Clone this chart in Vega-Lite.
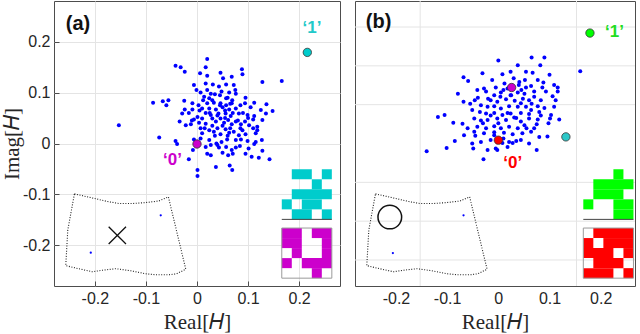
{
 "$schema": "https://vega.github.io/schema/vega-lite/v6.json",
 "padding": {"left": 0, "top": 0, "right": 0, "bottom": 0},
 "spacing": 13,
 "resolve": {"scale": {"x": "independent", "y": "independent", "color": "independent", "fill": "independent"}},
 "config": {
  "view": {"stroke": "#4d4d4d", "strokeWidth": 1},
  "axis": {"labelFont": "Liberation Sans", "labelFontSize": 16, "labelColor": "#262626", "titleFont": "Liberation Serif", "titleFontSize": 21, "titleFontWeight": "normal", "titleColor": "#262626", "domain": false, "gridColor": "#e4e4e4", "tickColor": "#4d4d4d"}
 },
 "datasets": {
  "ptsA": [
   {"x":0.020,"y":0.166},{"x":-0.042,"y":0.153},{"x":-0.032,"y":0.150},{"x":0.017,"y":0.150},{"x":-0.024,"y":0.141},{"x":0.006,"y":0.138},{"x":0.046,"y":0.139},{"x":0.088,"y":0.146},{"x":0.089,"y":0.136},{"x":0.020,"y":0.133},{"x":0.051,"y":0.128},{"x":0.068,"y":0.131},{"x":0.128,"y":0.121},{"x":0.166,"y":0.123},{"x":-0.006,"y":0.115},{"x":0.017,"y":0.118},{"x":0.031,"y":0.116},{"x":0.043,"y":0.112},{"x":0.057,"y":0.116},{"x":0.072,"y":0.115},{"x":-0.001,"y":0.105},{"x":0.007,"y":0.100},{"x":0.027,"y":0.098},{"x":0.035,"y":0.097},{"x":0.048,"y":0.102},{"x":0.063,"y":0.100},{"x":0.076,"y":0.098},{"x":0.014,"y":0.092},{"x":0.024,"y":0.089},{"x":0.057,"y":0.089},{"x":0.069,"y":0.085},{"x":-0.025,"y":0.084},{"x":-0.086,"y":0.080},{"x":-0.067,"y":0.083},{"x":-0.056,"y":0.085},{"x":-0.060,"y":0.075},{"x":-0.009,"y":0.079},{"x":0.003,"y":0.075},{"x":0.020,"y":0.079},{"x":0.033,"y":0.080},{"x":0.046,"y":0.079},{"x":0.057,"y":0.075},{"x":0.068,"y":0.079},{"x":0.094,"y":0.079},{"x":0.112,"y":0.080},{"x":0.136,"y":0.077},{"x":-0.024,"y":0.067},{"x":-0.009,"y":0.067},{"x":0.010,"y":0.069},{"x":0.024,"y":0.069},{"x":0.037,"y":0.067},{"x":0.050,"y":0.071},{"x":0.063,"y":0.067},{"x":0.076,"y":0.069},{"x":0.105,"y":0.071},{"x":0.125,"y":0.066},{"x":0.148,"y":0.064},{"x":-0.029,"y":0.059},{"x":-0.016,"y":0.060},{"x":0.001,"y":0.052},{"x":0.017,"y":0.060},{"x":0.027,"y":0.056},{"x":0.042,"y":0.059},{"x":0.056,"y":0.059},{"x":0.066,"y":0.054},{"x":0.082,"y":0.059},{"x":0.099,"y":0.056},{"x":0.112,"y":0.054},{"x":0.135,"y":0.059},{"x":-0.006,"y":0.047},{"x":0.010,"y":0.049},{"x":0.030,"y":0.049},{"x":0.046,"y":0.049},{"x":0.061,"y":0.046},{"x":0.076,"y":0.043},{"x":0.094,"y":0.043},{"x":0.110,"y":0.047},{"x":0.128,"y":0.046},{"x":-0.034,"y":0.043},{"x":-0.022,"y":0.036},{"x":-0.012,"y":0.038},{"x":0.004,"y":0.041},{"x":0.017,"y":0.039},{"x":0.037,"y":0.043},{"x":0.053,"y":0.041},{"x":0.068,"y":0.038},{"x":0.086,"y":0.038},{"x":0.102,"y":0.036},{"x":0.118,"y":0.033},{"x":0.007,"y":0.030},{"x":0.024,"y":0.026},{"x":0.040,"y":0.030},{"x":0.056,"y":0.028},{"x":0.072,"y":0.023},{"x":0.089,"y":0.026},{"x":0.118,"y":0.026},{"x":0.010,"y":0.020},{"x":0.033,"y":0.023},{"x":0.046,"y":0.018},{"x":0.063,"y":0.021},{"x":0.082,"y":0.016},{"x":0.095,"y":0.018},{"x":0.115,"y":0.020},{"x":-0.042,"y":0.005},{"x":-0.039,"y":-0.001},{"x":-0.074,"y":0.012},{"x":-0.006,"y":0.008},{"x":0.007,"y":0.010},{"x":0.024,"y":0.007},{"x":0.038,"y":0.000},{"x":0.048,"y":0.003},{"x":0.059,"y":0.008},{"x":0.076,"y":0.007},{"x":0.086,"y":0.008},{"x":0.099,"y":0.005},{"x":0.115,"y":0.003},{"x":0.127,"y":0.007},{"x":0.017,"y":-0.007},{"x":0.027,"y":-0.003},{"x":0.043,"y":-0.008},{"x":0.057,"y":-0.007},{"x":0.076,"y":-0.008},{"x":0.084,"y":-0.005},{"x":0.101,"y":-0.010},{"x":0.112,"y":-0.001},{"x":-0.008,"y":-0.013},{"x":0.020,"y":-0.020},{"x":0.027,"y":-0.023},{"x":0.050,"y":-0.018},{"x":0.061,"y":-0.023},{"x":0.068,"y":-0.013},{"x":0.095,"y":-0.020},{"x":0.107,"y":-0.026},{"x":0.121,"y":-0.028},{"x":0.128,"y":-0.014},{"x":0.142,"y":-0.031},{"x":-0.016,"y":-0.031},{"x":0.037,"y":-0.046},{"x":0.064,"y":-0.043},{"x":0.069,"y":-0.052},{"x":0.001,"y":-0.052},{"x":0.001,"y":-0.064},{"x":-0.153,"y":0.036},
   {"x":0.030,"y":0.085},{"x":0.045,"y":0.075},{"x":0.060,"y":0.090},{"x":0.040,"y":0.055},{"x":0.055,"y":0.065},{"x":0.070,"y":0.060},{"x":0.025,"y":0.060},{"x":0.050,"y":0.035},{"x":0.065,"y":0.030},{"x":0.035,"y":0.015},{"x":0.080,"y":0.045},{"x":0.090,"y":0.060},{"x":0.015,"y":0.030},{"x":0.005,"y":0.065},{"x":0.045,"y":0.095},{"x":0.085,"y":0.030},{"x":0.100,"y":0.050},{"x":0.060,"y":0.015},{"x":0.020,"y":0.105},{"x":0.075,"y":0.105},{"x":-0.010,"y":0.045},{"x":0.095,"y":0.090},{"x":0.110,"y":0.030},{"x":0.040,"y":-0.003},{"x":0.070,"y":-0.020},{"x":0.012,"y":0.085},{"x":0.055,"y":0.050},{"x":0.030,"y":0.035},{"x":0.085,"y":0.075},{"x":0.065,"y":0.078}
  ],
  "ptsB": [
   {"x":0.000,"y":0.163},{"x":0.065,"y":0.169},{"x":0.090,"y":0.169},{"x":0.082,"y":0.154},{"x":0.038,"y":0.154},{"x":0.160,"y":0.142},{"x":-0.031,"y":0.138},{"x":-0.068,"y":0.130},{"x":-0.059,"y":0.123},{"x":0.008,"y":0.136},{"x":0.024,"y":0.141},{"x":0.054,"y":0.141},{"x":0.067,"y":0.139},{"x":0.100,"y":0.135},{"x":0.041,"y":0.121},{"x":0.052,"y":0.125},{"x":0.077,"y":0.125},{"x":0.109,"y":0.115},{"x":0.116,"y":0.110},{"x":-0.028,"y":0.108},{"x":-0.005,"y":0.110},{"x":0.010,"y":0.105},{"x":0.018,"y":0.108},{"x":0.054,"y":0.110},{"x":0.064,"y":0.113},{"x":0.086,"y":0.110},{"x":-0.079,"y":0.098},{"x":-0.041,"y":0.105},{"x":-0.024,"y":0.102},{"x":-0.008,"y":0.095},{"x":0.004,"y":0.092},{"x":0.024,"y":0.095},{"x":0.038,"y":0.100},{"x":0.051,"y":0.098},{"x":0.070,"y":0.102},{"x":0.093,"y":0.102},{"x":0.116,"y":0.102},{"x":-0.068,"y":0.082},{"x":-0.046,"y":0.085},{"x":-0.015,"y":0.085},{"x":-0.002,"y":0.082},{"x":0.015,"y":0.087},{"x":0.032,"y":0.084},{"x":0.044,"y":0.079},{"x":0.060,"y":0.085},{"x":0.083,"y":0.085},{"x":0.106,"y":0.093},{"x":-0.034,"y":0.075},{"x":-0.021,"y":0.072},{"x":-0.008,"y":0.073},{"x":0.005,"y":0.069},{"x":0.021,"y":0.073},{"x":0.038,"y":0.072},{"x":0.054,"y":0.072},{"x":0.077,"y":0.073},{"x":0.109,"y":0.072},{"x":-0.118,"y":0.052},{"x":-0.105,"y":0.056},{"x":-0.051,"y":0.066},{"x":-0.036,"y":0.062},{"x":-0.024,"y":0.059},{"x":-0.008,"y":0.060},{"x":0.008,"y":0.056},{"x":0.024,"y":0.059},{"x":0.044,"y":0.060},{"x":0.064,"y":0.066},{"x":0.080,"y":0.062},{"x":0.103,"y":0.056},{"x":-0.088,"y":0.041},{"x":-0.070,"y":0.039},{"x":-0.047,"y":0.049},{"x":-0.034,"y":0.045},{"x":-0.021,"y":0.046},{"x":-0.002,"y":0.049},{"x":0.015,"y":0.046},{"x":0.031,"y":0.051},{"x":0.044,"y":0.043},{"x":0.060,"y":0.049},{"x":0.077,"y":0.047},{"x":0.101,"y":0.049},{"x":0.119,"y":0.047},{"x":-0.060,"y":0.030},{"x":-0.041,"y":0.033},{"x":-0.024,"y":0.030},{"x":-0.008,"y":0.034},{"x":0.005,"y":0.030},{"x":0.021,"y":0.033},{"x":0.038,"y":0.030},{"x":0.051,"y":0.036},{"x":0.070,"y":0.030},{"x":0.096,"y":0.014},{"x":-0.085,"y":0.005},{"x":-0.067,"y":0.016},{"x":-0.047,"y":0.023},{"x":-0.028,"y":0.020},{"x":-0.008,"y":0.016},{"x":0.011,"y":0.021},{"x":0.028,"y":0.018},{"x":0.047,"y":0.020},{"x":0.064,"y":0.023},{"x":0.080,"y":0.013},{"x":-0.051,"y":0.000},{"x":-0.034,"y":0.003},{"x":-0.015,"y":0.007},{"x":0.008,"y":0.001},{"x":0.021,"y":0.003},{"x":0.044,"y":0.007},{"x":0.060,"y":0.000},{"x":-0.140,"y":-0.015},{"x":-0.101,"y":-0.009},{"x":-0.049,"y":-0.010},{"x":-0.021,"y":-0.013},{"x":-0.002,"y":-0.013},{"x":0.018,"y":-0.007},{"x":0.028,"y":0.001},{"x":0.075,"y":-0.013},{"x":-0.029,"y":-0.031},{"x":-0.005,"y":-0.010},
   {"x":0.012,"y":0.118},{"x":0.030,"y":0.128},{"x":0.045,"y":0.105},{"x":0.070,"y":0.092},{"x":0.088,"y":0.120},{"x":-0.012,"y":0.125},{"x":-0.040,"y":0.090},{"x":-0.055,"y":0.078},{"x":0.000,"y":0.040},{"x":0.018,"y":0.060},{"x":0.035,"y":0.050},{"x":0.060,"y":0.058},{"x":0.090,"y":0.070},{"x":0.098,"y":0.040},{"x":0.075,"y":0.038},{"x":0.055,"y":0.030},{"x":-0.015,"y":0.055},{"x":-0.030,"y":0.040},{"x":0.010,"y":0.010},{"x":0.035,"y":0.005},{"x":-0.045,"y":0.015},{"x":0.065,"y":0.078},{"x":0.025,"y":0.095},{"x":-0.020,"y":0.088},{"x":0.048,"y":0.088},{"x":0.112,"y":0.085},{"x":0.083,"y":0.055},{"x":-0.008,"y":0.022},{"x":0.040,"y":0.115},{"x":0.005,"y":0.100}
  ],
  "outline": [
   {"o":0,"x":-0.240,"y":-0.099},{"o":1,"x":-0.205,"y":-0.107},{"o":2,"x":-0.175,"y":-0.114},{"o":3,"x":-0.153,"y":-0.118},{"o":4,"x":-0.127,"y":-0.118},{"o":5,"x":-0.100,"y":-0.116},{"o":6,"x":-0.075,"y":-0.113},{"o":7,"x":-0.056,"y":-0.105},{"o":8,"x":-0.039,"y":-0.176},{"o":9,"x":-0.022,"y":-0.247},{"o":10,"x":-0.040,"y":-0.256},{"o":11,"x":-0.055,"y":-0.258},{"o":12,"x":-0.080,"y":-0.258},{"o":13,"x":-0.100,"y":-0.256},{"o":14,"x":-0.130,"y":-0.250},{"o":15,"x":-0.159,"y":-0.246},{"o":16,"x":-0.185,"y":-0.249},{"o":17,"x":-0.205,"y":-0.252},{"o":18,"x":-0.232,"y":-0.246},{"o":19,"x":-0.257,"y":-0.240},{"o":20,"x":-0.253,"y":-0.170},{"o":21,"x":-0.240,"y":-0.099}
  ],
  "tiny": [
   {"p":"a","x":-0.071,"y":-0.141},{"p":"a","x":-0.208,"y":-0.2146},
   {"p":"b","x":-0.068,"y":-0.141},{"p":"b","x":-0.206,"y":-0.2154}
  ],
  "special": [
   {"p":"a","s":"A1","x":0.216,"y":0.179},{"p":"a","s":"A0","x":0.0,"y":-0.001},
   {"p":"b","s":"A1","x":0.132,"y":0.013},{"p":"b","s":"A0","x":0.026,"y":0.110},
   {"p":"b","s":"B1","x":0.179,"y":0.217},{"p":"b","s":"B0","x":0.0,"y":0.0065}
  ],
  "labels": [
   {"p":"a","s":"A1","t":"‘1’","x":0.225,"y":0.227},{"p":"a","s":"A0","t":"‘0’","x":-0.048,"y":-0.033},
   {"p":"b","s":"B1","t":"‘1’","x":0.227,"y":0.220},{"p":"b","s":"B0","t":"‘0’","x":0.028,"y":-0.039}
  ],
  "ptitle": [
   {"p":"a","t":"(a)","x":-0.233,"y":0.235},{"p":"b","t":"(b)","x":-0.234,"y":0.238}
  ],
  "cells": [
   {"p":"a","s":"A1","x":0.1856,"x2":0.2248,"y":-0.0506,"y2":-0.0703},
   {"p":"a","s":"A1","x":0.2444,"x2":0.264,"y":-0.0506,"y2":-0.0703},
   {"p":"a","s":"A1","x":0.2248,"x2":0.2444,"y":-0.0703,"y2":-0.0900},
   {"p":"a","s":"A1","x":0.1856,"x2":0.264,"y":-0.0900,"y2":-0.1097},
   {"p":"a","s":"A1","x":0.166,"x2":0.1856,"y":-0.1097,"y2":-0.1294},
   {"p":"a","s":"A1","x":0.2052,"x2":0.2444,"y":-0.1097,"y2":-0.1294},
   {"p":"a","s":"A1","x":0.1856,"x2":0.2248,"y":-0.1294,"y2":-0.1491},
   {"p":"a","s":"A1","x":0.2444,"x2":0.264,"y":-0.1294,"y2":-0.1491},
   {"p":"a","s":"A0","x":0.166,"x2":0.2052,"y":-0.1661,"y2":-0.1858},
   {"p":"a","s":"A0","x":0.2248,"x2":0.264,"y":-0.1661,"y2":-0.1858},
   {"p":"a","s":"A0","x":0.166,"x2":0.2052,"y":-0.1858,"y2":-0.2055},
   {"p":"a","s":"A0","x":0.2444,"x2":0.264,"y":-0.1858,"y2":-0.2055},
   {"p":"a","s":"A0","x":0.1856,"x2":0.2052,"y":-0.2055,"y2":-0.2252},
   {"p":"a","s":"A0","x":0.2444,"x2":0.264,"y":-0.2055,"y2":-0.2252},
   {"p":"a","s":"A0","x":0.166,"x2":0.1856,"y":-0.2252,"y2":-0.2449},
   {"p":"a","s":"A0","x":0.2052,"x2":0.264,"y":-0.2252,"y2":-0.2449},
   {"p":"a","s":"A0","x":0.2248,"x2":0.2444,"y":-0.2449,"y2":-0.2646},
   {"p":"b","s":"B1","x":0.2248,"x2":0.2444,"y":-0.0506,"y2":-0.0703},
   {"p":"b","s":"B1","x":0.1856,"x2":0.264,"y":-0.0703,"y2":-0.0900},
   {"p":"b","s":"B1","x":0.1856,"x2":0.2444,"y":-0.0900,"y2":-0.1097},
   {"p":"b","s":"B1","x":0.166,"x2":0.1856,"y":-0.1097,"y2":-0.1294},
   {"p":"b","s":"B1","x":0.2248,"x2":0.264,"y":-0.1097,"y2":-0.1294},
   {"p":"b","s":"B1","x":0.2248,"x2":0.264,"y":-0.1294,"y2":-0.1491},
   {"p":"b","s":"B0","x":0.1856,"x2":0.264,"y":-0.1661,"y2":-0.1858},
   {"p":"b","s":"B0","x":0.166,"x2":0.1856,"y":-0.1858,"y2":-0.2055},
   {"p":"b","s":"B0","x":0.2052,"x2":0.264,"y":-0.1858,"y2":-0.2055},
   {"p":"b","s":"B0","x":0.166,"x2":0.2248,"y":-0.2055,"y2":-0.2252},
   {"p":"b","s":"B0","x":0.2444,"x2":0.264,"y":-0.2055,"y2":-0.2252},
   {"p":"b","s":"B0","x":0.1856,"x2":0.2444,"y":-0.2252,"y2":-0.2449},
   {"p":"b","s":"B0","x":0.166,"x2":0.2248,"y":-0.2449,"y2":-0.2646},
   {"p":"b","s":"B0","x":0.2444,"x2":0.264,"y":-0.2449,"y2":-0.2646}
  ],
  "framesLow": [
   {"p":"a","x":0.166,"x2":0.264,"y":-0.1661,"y2":-0.2646},
   {"p":"b","x":0.166,"x2":0.264,"y":-0.1661,"y2":-0.2646}
  ],
  "framesUp": [
   {"p":"a","x":0.166,"x2":0.264,"y":-0.1491,"y2":-0.1491},
   {"p":"b","x":0.166,"x2":0.264,"y":-0.1491,"y2":-0.1491}
  ],
  "markA": [{"x":-0.156,"y":-0.1805}],
  "markB": [{"x":-0.212,"y":-0.1445}],
  "gridBx": [{"g":-0.1527},{"g":0.1527}],
  "gridBy": [{"g":-0.2289},{"g":-0.1526},{"g":-0.0763},{"g":0.0763},{"g":0.1526},{"g":0.2289}]
 },
 "hconcat": [
  {
   "width": 286, "height": 285,
   "layer": [
    {"data": {"name": "ptsA"}, "mark": {"type": "circle", "size": 0, "opacity": 0},
     "encoding": {
      "x": {"field": "x", "type": "quantitative", "scale": {"domain": [-0.28, 0.28], "nice": false, "zero": false},
            "axis": {"values": [-0.2, -0.1, 0, 0.1, 0.2], "labelExpr": "datum.value == 0 ? '0' : (datum.value < 0 ? '-' : '') + format(abs(datum.value), '.1f')", "title": "Real[𝐻]", "grid": true, "tickSize": -5, "labelPadding": 9, "titlePadding": 5}},
      "y": {"field": "y", "type": "quantitative", "scale": {"domain": [-0.28, 0.28], "nice": false, "zero": false},
            "axis": {"values": [-0.2, -0.1, 0, 0.1, 0.2], "labelExpr": "datum.value == 0 ? '0' : (datum.value < 0 ? '-' : '') + format(abs(datum.value), '.1f')", "title": "Imag[𝐻]", "grid": true, "tickSize": -5, "labelPadding": 9, "titlePadding": 0}}
     }},
    {"mark": {"type": "rule", "color": "#5a5a5a", "strokeWidth": 2}, "encoding": {"x": {"datum": 0}}},
    {"mark": {"type": "rule", "color": "#8a8a8a", "strokeWidth": 1}, "encoding": {"y": {"datum": 0}}},
    {"data": {"name": "outline"}, "mark": {"type": "line", "color": "#222", "strokeWidth": 1.1, "strokeDash": [1, 1.6]},
     "encoding": {"x": {"field": "x", "type": "quantitative"}, "y": {"field": "y", "type": "quantitative"}, "order": {"field": "o"}}},
    {"data": {"name": "markA"}, "mark": {"type": "point", "shape": "M-1,-1L1,1M-1,1L1,-1", "size": 300, "filled": false, "color": "#111", "strokeWidth": 1.3, "opacity": 1},
     "encoding": {"x": {"field": "x", "type": "quantitative"}, "y": {"field": "y", "type": "quantitative"}}},
    {"data": {"name": "tiny"}, "transform": [{"filter": "datum.p == 'a'"}], "mark": {"type": "circle", "size": 5, "color": "#0000ff", "opacity": 1},
     "encoding": {"x": {"field": "x", "type": "quantitative"}, "y": {"field": "y", "type": "quantitative"}}},
    {"data": {"name": "ptsA"}, "mark": {"type": "circle", "size": 16, "color": "#0000ff", "opacity": 1},
     "encoding": {"x": {"field": "x", "type": "quantitative"}, "y": {"field": "y", "type": "quantitative"}}},
    {"data": {"name": "cells"}, "transform": [{"filter": "datum.p == 'a'"}], "mark": {"type": "rect", "strokeWidth": 0},
     "encoding": {"x": {"field": "x", "type": "quantitative"}, "x2": {"field": "x2"}, "y": {"field": "y", "type": "quantitative"}, "y2": {"field": "y2"},
      "fill": {"field": "s", "type": "nominal", "scale": {"domain": ["A1", "A0", "B1", "B0"], "range": ["#00cccc", "#cc00cc", "#00ff00", "#ff0000"]}, "legend": null}}},
    {"data": {"name": "framesLow"}, "transform": [{"filter": "datum.p == 'a'"}], "mark": {"type": "rect", "fill": null, "stroke": "#9a9a9a", "strokeWidth": 1},
     "encoding": {"x": {"field": "x", "type": "quantitative"}, "x2": {"field": "x2"}, "y": {"field": "y", "type": "quantitative"}, "y2": {"field": "y2"}}},
    {"data": {"name": "framesUp"}, "transform": [{"filter": "datum.p == 'a'"}], "mark": {"type": "rule", "color": "#444", "strokeWidth": 1},
     "encoding": {"x": {"field": "x", "type": "quantitative"}, "x2": {"field": "x2"}, "y": {"field": "y", "type": "quantitative"}, "y2": {"field": "y2"}}},
    {"data": {"name": "special"}, "transform": [{"filter": "datum.p == 'a'"}], "mark": {"type": "circle", "size": 70, "stroke": "#333", "strokeWidth": 0.8, "opacity": 1},
     "encoding": {"x": {"field": "x", "type": "quantitative"}, "y": {"field": "y", "type": "quantitative"}, "fill": {"field": "s", "type": "nominal", "legend": null}}},
    {"data": {"name": "labels"}, "transform": [{"filter": "datum.p == 'a'"}], "mark": {"type": "text", "font": "Liberation Sans", "fontSize": 17, "fontWeight": "bold"},
     "encoding": {"x": {"field": "x", "type": "quantitative"}, "y": {"field": "y", "type": "quantitative"}, "text": {"field": "t"},
      "color": {"field": "s", "type": "nominal", "scale": {"domain": ["A1", "A0", "B1", "B0"], "range": ["#22c9c9", "#cc00cc", "#22dd22", "#ff0000"]}, "legend": null}}},
    {"data": {"name": "ptitle"}, "transform": [{"filter": "datum.p == 'a'"}], "mark": {"type": "text", "font": "Liberation Sans", "fontSize": 20, "fontWeight": "bold", "color": "#111"},
     "encoding": {"x": {"field": "x", "type": "quantitative"}, "y": {"field": "y", "type": "quantitative"}, "text": {"field": "t"}}}
   ]
  },
  {
   "width": 280, "height": 285,
   "layer": [
    {"data": {"name": "gridBx"}, "mark": {"type": "rule", "color": "#e4e4e4", "strokeWidth": 1},
     "encoding": {"x": {"field": "g", "type": "quantitative", "scale": {"domain": [-0.28, 0.267], "nice": false, "zero": false},
      "axis": {"values": [-0.2, -0.1, 0, 0.1, 0.2], "labelExpr": "datum.value == 0 ? '0' : (datum.value < 0 ? '-' : '') + format(abs(datum.value), '.1f')", "title": "Real[𝐻]", "grid": false, "ticks": false, "labelPadding": 4, "titlePadding": 5}}}},
    {"data": {"name": "gridBy"}, "mark": {"type": "rule", "color": "#e4e4e4", "strokeWidth": 1},
     "encoding": {"y": {"field": "g", "type": "quantitative", "scale": {"domain": [-0.28, 0.28], "nice": false, "zero": false}, "axis": null}}},
    {"mark": {"type": "rule", "color": "#222", "strokeWidth": 1}, "encoding": {"x": {"datum": 0}}},
    {"mark": {"type": "rule", "color": "#8a8a8a", "strokeWidth": 1}, "encoding": {"y": {"datum": 0}}},
    {"data": {"name": "outline"}, "mark": {"type": "line", "color": "#222", "strokeWidth": 1.1, "strokeDash": [1, 1.6]},
     "encoding": {"x": {"field": "x", "type": "quantitative"}, "y": {"field": "y", "type": "quantitative"}, "order": {"field": "o"}}},
    {"data": {"name": "markB"}, "mark": {"type": "point", "shape": "circle", "size": 560, "filled": false, "color": "#111", "strokeWidth": 1.5, "opacity": 1},
     "encoding": {"x": {"field": "x", "type": "quantitative"}, "y": {"field": "y", "type": "quantitative"}}},
    {"data": {"name": "tiny"}, "transform": [{"filter": "datum.p == 'b'"}], "mark": {"type": "circle", "size": 5, "color": "#0000ff", "opacity": 1},
     "encoding": {"x": {"field": "x", "type": "quantitative"}, "y": {"field": "y", "type": "quantitative"}}},
    {"data": {"name": "ptsB"}, "mark": {"type": "circle", "size": 16, "color": "#0000ff", "opacity": 1},
     "encoding": {"x": {"field": "x", "type": "quantitative"}, "y": {"field": "y", "type": "quantitative"}}},
    {"data": {"name": "cells"}, "transform": [{"filter": "datum.p == 'b'"}], "mark": {"type": "rect", "strokeWidth": 0},
     "encoding": {"x": {"field": "x", "type": "quantitative"}, "x2": {"field": "x2"}, "y": {"field": "y", "type": "quantitative"}, "y2": {"field": "y2"},
      "fill": {"field": "s", "type": "nominal", "scale": {"domain": ["A1", "A0", "B1", "B0"], "range": ["#2cc8c8", "#cc00cc", "#00ff00", "#ff0000"]}, "legend": null}}},
    {"data": {"name": "framesLow"}, "transform": [{"filter": "datum.p == 'b'"}], "mark": {"type": "rect", "fill": null, "stroke": "#9a9a9a", "strokeWidth": 1},
     "encoding": {"x": {"field": "x", "type": "quantitative"}, "x2": {"field": "x2"}, "y": {"field": "y", "type": "quantitative"}, "y2": {"field": "y2"}}},
    {"data": {"name": "framesUp"}, "transform": [{"filter": "datum.p == 'b'"}], "mark": {"type": "rule", "color": "#444", "strokeWidth": 1},
     "encoding": {"x": {"field": "x", "type": "quantitative"}, "x2": {"field": "x2"}, "y": {"field": "y", "type": "quantitative"}, "y2": {"field": "y2"}}},
    {"data": {"name": "special"}, "transform": [{"filter": "datum.p == 'b'"}], "mark": {"type": "circle", "size": 70, "stroke": "#333", "strokeWidth": 0.8, "opacity": 1},
     "encoding": {"x": {"field": "x", "type": "quantitative"}, "y": {"field": "y", "type": "quantitative"}, "fill": {"field": "s", "type": "nominal", "legend": null}}},
    {"data": {"name": "labels"}, "transform": [{"filter": "datum.p == 'b'"}], "mark": {"type": "text", "font": "Liberation Sans", "fontSize": 17, "fontWeight": "bold"},
     "encoding": {"x": {"field": "x", "type": "quantitative"}, "y": {"field": "y", "type": "quantitative"}, "text": {"field": "t"},
      "color": {"field": "s", "type": "nominal", "scale": {"domain": ["A1", "A0", "B1", "B0"], "range": ["#22c9c9", "#cc00cc", "#22dd22", "#ff0000"]}, "legend": null}}},
    {"data": {"name": "ptitle"}, "transform": [{"filter": "datum.p == 'b'"}], "mark": {"type": "text", "font": "Liberation Sans", "fontSize": 20, "fontWeight": "bold", "color": "#111"},
     "encoding": {"x": {"field": "x", "type": "quantitative"}, "y": {"field": "y", "type": "quantitative"}, "text": {"field": "t"}}}
   ]
  }
 ]
}
